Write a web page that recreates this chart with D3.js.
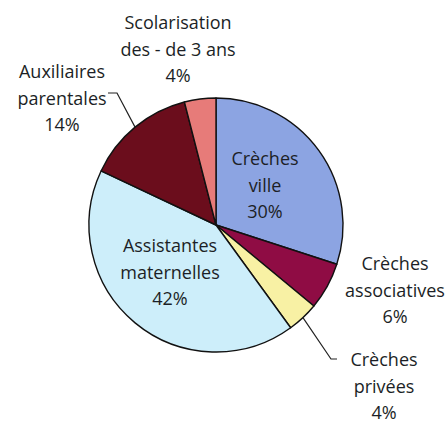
<!DOCTYPE html>
<html>
<head>
<meta charset="utf-8">
<script src="https://cdn.jsdelivr.net/npm/d3@7"></script>
<style>
  body { margin: 0; background: #fff; }
  text { font-family: "Open Sans", sans-serif; font-size: 18px; fill: #1c1f26; }
</style>
</head>
<body>
<svg class="chart" width="445" height="425"></svg>
<script>
// data, clockwise from 12 o'clock
var categories = ["Crèches ville", "Crèches associatives", "Crèches privées",
                  "Assistantes maternelles", "Auxiliaires parentales", "Scolarisation des - de 3 ans"];
var shares = [30, 6, 4, 42, 14, 4];
var labelLines = [
    ["Crèches", "ville", "30%"],
    ["Crèches", "associatives", "6%"],
    ["Crèches", "privées", "4%"],
    ["Assistantes", "maternelles", "42%"],
    ["Auxiliaires", "parentales", "14%"],
    ["Scolarisation", "des - de 3 ans", "4%"]
];
var colors = ["#8ca4e2", "#8f0c44", "#f8f1a4", "#cdeefa", "#6b0d1c", "#e77b79"];

// layout of labels: offset of first baseline from pie centre
var labelAt = [
    {x: 49, y: -60},
    {x: 179, y: 45},
    {x: 168, y: 141},
    {x: -46, y: 27},
    {x: -154, y: -147},
    {x: -38, y: -196}
];

var cx = 216, cy = 225, R = 127, lineH = 26.5;

var svg = d3.select(".chart");
var g = svg.append("g").attr("transform", "translate(" + cx + "," + cy + ")");

var pie = d3.pie().sort(null).value(function(d) { return d; });
var arc = d3.arc().innerRadius(0).outerRadius(R);
var arcs = pie(shares);

g.selectAll("path.slice")
    .data(arcs).enter()
    .append("path")
    .attr("class", "slice")
    .attr("d", arc)
    .attr("fill", function(d, i) { return colors[i] })
    .attr("stroke", "#111")
    .attr("stroke-width", 1.4)
    .attr("stroke-linejoin", "round");

// leader lines for the two labels placed away from their slice
function edge(d) {
    var a = (d.startAngle + d.endAngle) / 2;
    return [R * Math.sin(a), -R * Math.cos(a)];
}
var aux = edge(arcs[4]);
var priv = edge(arcs[2]);
var leaders = [
    [aux, [-99, -132], [-108, -132]],
    [priv, [115, 134], [121, 134]]
];
g.selectAll("path.leader")
    .data(leaders).enter()
    .append("path")
    .attr("class", "leader")
    .attr("d", d3.line())
    .attr("fill", "none")
    .attr("stroke", "#222")
    .attr("stroke-width", 1.2);

var labels = g.selectAll("text.lbl")
    .data(labelLines).enter()
    .append("text")
    .attr("class", "lbl")
    .attr("text-anchor", "middle")
    .attr("x", function(d, i) { return labelAt[i].x })
    .attr("y", function(d, i) { return labelAt[i].y });

labels.selectAll("tspan")
    .data(function(d, i) { return d.map(function(t) { return {t: t, x: labelAt[i].x} }) })
    .enter()
    .append("tspan")
    .attr("x", function(d) { return d.x })
    .attr("dy", function(d, j) { return j == 0 ? 0 : lineH })
    .text(function(d) { return d.t });
</script>
</body>
</html>
